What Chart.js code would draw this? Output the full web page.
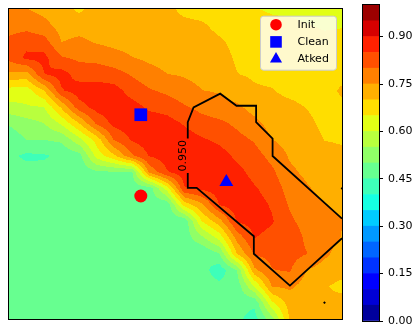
<!DOCTYPE html>
<html>
<head>
<meta charset="utf-8">
<script src="https://cdn.jsdelivr.net/npm/chart.js@4.4.1/dist/chart.umd.min.js"></script>
<style>
  html, body { margin: 0; padding: 0; background: #ffffff; }
  #wrap { position: relative; width: 415px; height: 328px; overflow: hidden; }
  #wrap canvas { position: absolute; left: 0; top: 0; }
</style>
</head>
<body>
<div id="wrap">
  <canvas id="field" width="415" height="328"></canvas>
  <canvas id="cbar" width="415" height="328"></canvas>
</div>
<script>
// Filled-contour levels and colorbar ticks
const levels = [0.00, 0.05, 0.10, 0.15, 0.20, 0.25, 0.30, 0.35, 0.40, 0.45, 0.50,
                0.55, 0.60, 0.65, 0.70, 0.75, 0.80, 0.85, 0.90, 0.95, 1.00];
const colorbarTicks = [0.00, 0.15, 0.30, 0.45, 0.60, 0.75, 0.90];

// Accuracy surface on a 20 x 20 grid (row 0 = top of the plot)
const surface = [
  [0.760, 0.752, 0.735, 0.720, 0.690, 0.720, 0.720, 0.715, 0.715, 0.710, 0.690, 0.685, 0.680, 0.675, 0.652, 0.645, 0.640, 0.635, 0.630, 0.625],
  [0.780, 0.780, 0.765, 0.730, 0.730, 0.730, 0.725, 0.720, 0.720, 0.715, 0.710, 0.705, 0.690, 0.680, 0.665, 0.660, 0.660, 0.652, 0.645, 0.648],
  [0.810, 0.835, 0.820, 0.749, 0.760, 0.745, 0.735, 0.730, 0.725, 0.720, 0.720, 0.715, 0.705, 0.690, 0.675, 0.670, 0.675, 0.665, 0.660, 0.660],
  [0.815, 0.860, 0.865, 0.805, 0.790, 0.785, 0.770, 0.752, 0.740, 0.730, 0.730, 0.725, 0.715, 0.695, 0.685, 0.680, 0.680, 0.670, 0.665, 0.665],
  [0.740, 0.730, 0.848, 0.870, 0.830, 0.830, 0.820, 0.795, 0.770, 0.751, 0.745, 0.735, 0.725, 0.701, 0.695, 0.690, 0.685, 0.675, 0.670, 0.680],
  [0.630, 0.625, 0.700, 0.845, 0.875, 0.875, 0.870, 0.830, 0.805, 0.790, 0.770, 0.751, 0.745, 0.720, 0.705, 0.702, 0.690, 0.685, 0.675, 0.710],
  [0.585, 0.595, 0.600, 0.710, 0.830, 0.870, 0.880, 0.870, 0.840, 0.830, 0.805, 0.785, 0.770, 0.760, 0.730, 0.715, 0.710, 0.698, 0.685, 0.685],
  [0.505, 0.530, 0.550, 0.610, 0.700, 0.810, 0.865, 0.880, 0.880, 0.870, 0.845, 0.820, 0.810, 0.790, 0.765, 0.730, 0.720, 0.710, 0.690, 0.690],
  [0.470, 0.501, 0.501, 0.510, 0.585, 0.670, 0.805, 0.855, 0.880, 0.885, 0.875, 0.855, 0.840, 0.815, 0.795, 0.751, 0.730, 0.720, 0.699, 0.695],
  [0.462, 0.440, 0.445, 0.460, 0.480, 0.620, 0.690, 0.790, 0.852, 0.875, 0.885, 0.880, 0.870, 0.840, 0.820, 0.785, 0.745, 0.730, 0.715, 0.710],
  [0.470, 0.470, 0.465, 0.470, 0.465, 0.490, 0.495, 0.490, 0.760, 0.845, 0.880, 0.885, 0.885, 0.865, 0.835, 0.810, 0.760, 0.740, 0.725, 0.720],
  [0.470, 0.475, 0.470, 0.470, 0.475, 0.470, 0.475, 0.470, 0.470, 0.620, 0.845, 0.860, 0.875, 0.880, 0.855, 0.830, 0.780, 0.755, 0.735, 0.730],
  [0.470, 0.470, 0.475, 0.470, 0.470, 0.475, 0.470, 0.470, 0.475, 0.460, 0.670, 0.740, 0.852, 0.875, 0.870, 0.845, 0.795, 0.770, 0.752, 0.740],
  [0.475, 0.470, 0.470, 0.475, 0.470, 0.470, 0.475, 0.470, 0.470, 0.465, 0.460, 0.650, 0.730, 0.855, 0.870, 0.855, 0.810, 0.780, 0.765, 0.752],
  [0.470, 0.475, 0.470, 0.470, 0.475, 0.470, 0.470, 0.475, 0.470, 0.470, 0.470, 0.540, 0.620, 0.770, 0.852, 0.835, 0.830, 0.790, 0.770, 0.748],
  [0.470, 0.470, 0.475, 0.470, 0.470, 0.475, 0.470, 0.470, 0.475, 0.470, 0.470, 0.449, 0.498, 0.700, 0.805, 0.815, 0.820, 0.801, 0.760, 0.730],
  [0.470, 0.475, 0.470, 0.470, 0.475, 0.470, 0.470, 0.475, 0.470, 0.470, 0.475, 0.470, 0.420, 0.500, 0.740, 0.798, 0.805, 0.749, 0.730, 0.720],
  [0.470, 0.470, 0.475, 0.470, 0.470, 0.475, 0.470, 0.470, 0.475, 0.470, 0.470, 0.475, 0.465, 0.470, 0.600, 0.752, 0.760, 0.730, 0.705, 0.685],
  [0.475, 0.470, 0.470, 0.475, 0.470, 0.470, 0.475, 0.470, 0.470, 0.475, 0.470, 0.470, 0.475, 0.470, 0.460, 0.640, 0.720, 0.720, 0.710, 0.720],
  [0.470, 0.475, 0.470, 0.470, 0.475, 0.470, 0.470, 0.475, 0.470, 0.470, 0.475, 0.470, 0.470, 0.460, 0.430, 0.530, 0.702, 0.720, 0.720, 0.715]
];

// Marked models (grid coordinates)
const markerNames = ['Init', 'Clean', 'Atked'];
const markerX = [7.52, 7.52, 12.40];
const markerY = [11.46, 6.48, 10.60];

// 0.950 iso-line of the second surface (null = gap for the inline label)
const isoLabel = '0.950';
const isoX = [19.00, 15.04, 15.04, 14.10, 14.10, 12.98, 12.05, 10.53, 10.20, 10.20, 10.20, 10.20, 10.20, 10.71, 13.97, 13.97, 16.03, 19.00];
const isoY = [12.85, 9.01, 7.94, 6.94, 5.93, 5.93, 5.19, 6.03, 6.94, 7.94, null, 10.05, 10.96, 10.96, 13.93, 15.00, 16.95, 14.05];
const isoLabelAt = [9.92, 9.00];
// tiny closed pieces of the same iso-line
const islandX = [19.00, 18.00];
const islandY = [11.00, 18.00];

const FONT = "'DejaVu Sans', 'Liberation Sans', sans-serif";

// jet colormap
const JET = {
  r: [[0, 0], [0.35, 0], [0.66, 1], [0.89, 1], [1, 0.5]],
  g: [[0, 0], [0.125, 0], [0.375, 1], [0.64, 1], [0.91, 0], [1, 0]],
  b: [[0, 0.5], [0.11, 1], [0.34, 1], [0.65, 0], [1, 0]]
};
function seg(s, t) {
  for (let k = 1; k < s.length; k++) {
    if (t <= s[k][0]) {
      const [x0, y0] = s[k - 1], [x1, y1] = s[k];
      return y0 + (y1 - y0) * (t - x0) / (x1 - x0);
    }
  }
  return s[s.length - 1][1];
}
function jet(t) {
  return [Math.round(255 * seg(JET.r, t)), Math.round(255 * seg(JET.g, t)), Math.round(255 * seg(JET.b, t))];
}
const lo = levels[0], hi = levels[levels.length - 1];
const bandRGB = [];
for (let k = 0; k < levels.length - 1; k++) {
  bandRGB.push(jet(((levels[k] + levels[k + 1]) / 2 - lo) / (hi - lo)));
}
const bandCss = bandRGB.map(c => `rgb(${c[0]},${c[1]},${c[2]})`);

function bandOf(v) {
  if (v < levels[0]) return 0;
  for (let k = 0; k < levels.length - 1; k++) {
    if (v < levels[k + 1]) return k;
  }
  return levels.length - 2;
}

// Filled contours: every pixel of the plot area is mapped back to grid
// coordinates through the chart scales and coloured by its level band.
const contourFill = {
  id: 'contourFill',
  beforeDatasetsDraw(chart) {
    const { ctx, chartArea: a, scales } = chart;
    const xs = scales.x, ys = scales.y;
    const w = Math.round(a.right - a.left), h = Math.round(a.bottom - a.top);
    const img = ctx.createImageData(w, h);
    const nR = surface.length, nC = surface[0].length;
    for (let py = 0; py < h; py++) {
      const gy = ys.getValueForPixel(a.top + py + 0.5);
      const j = Math.min(Math.max(Math.floor(gy), 0), nR - 2);
      const fy = gy - j;
      for (let px = 0; px < w; px++) {
        const gx = xs.getValueForPixel(a.left + px + 0.5);
        const i = Math.min(Math.max(Math.floor(gx), 0), nC - 2);
        const fx = gx - i;
        const v = surface[j][i] * (1 - fx) * (1 - fy) + surface[j][i + 1] * fx * (1 - fy) +
                  surface[j + 1][i] * (1 - fx) * fy + surface[j + 1][i + 1] * fx * fy;
        const c = bandRGB[bandOf(v)];
        const o = (py * w + px) * 4;
        img.data[o] = c[0]; img.data[o + 1] = c[1]; img.data[o + 2] = c[2]; img.data[o + 3] = 255;
      }
    }
    ctx.putImageData(img, Math.round(a.left), Math.round(a.top));
  },
  afterDatasetsDraw(chart) {
    const { ctx, scales } = chart;
    const px = scales.x.getPixelForValue(isoLabelAt[0]);
    const py = scales.y.getPixelForValue(isoLabelAt[1]);
    ctx.save();
    ctx.translate(px, py);
    ctx.rotate(-Math.PI / 2);
    ctx.fillStyle = '#000';
    ctx.font = `11px ${FONT}`;
    ctx.textAlign = 'center';
    ctx.textBaseline = 'middle';
    ctx.fillText(isoLabel, 0, 0);
    ctx.restore();
  }
};

// Axes frame and legend box
const frameAndLegend = {
  id: 'frameAndLegend',
  afterDraw(chart) {
    const { ctx, chartArea: a } = chart;
    ctx.save();
    ctx.strokeStyle = '#000';
    ctx.lineWidth = 1;
    ctx.strokeRect(a.left - 0.5, a.top - 0.5, a.right - a.left + 1, a.bottom - a.top + 1);

    // legend
    const bx = a.right - 82, by = a.top + 6.7, bw = 76, bh = 54;
    ctx.beginPath();
    if (ctx.roundRect) ctx.roundRect(bx + 0.5, by + 0.5, bw, bh, 3); else ctx.rect(bx + 0.5, by + 0.5, bw, bh);
    ctx.fillStyle = 'rgba(255,255,255,0.8)';
    ctx.fill();
    ctx.strokeStyle = '#cccccc';
    ctx.stroke();

    const items = chart.data.datasets.filter(d => markerNames.includes(d.label));
    items.forEach((d, n) => {
      const cy = by + 9 + n * 17.2;
      const cx = bx + 16;
      ctx.fillStyle = d.backgroundColor;
      ctx.strokeStyle = d.backgroundColor;
      Chart.helpers.drawPoint(ctx, {
        pointStyle: d.pointStyle,
        radius: d.legendRadius,
        rotation: 0,
        borderWidth: 0
      }, cx, cy);
      ctx.fillStyle = '#000';
      ctx.font = `11px ${FONT}`;
      ctx.textAlign = 'left';
      ctx.textBaseline = 'middle';
      ctx.fillText(d.label, bx + 37.5, cy + 0.5);
    });
    ctx.restore();
  }
};

const markerStyles = [
  { color: '#ff0000', style: 'circle', radius: 6.5, legendRadius: 5.8 },
  { color: '#0000ff', style: 'rect', radius: 9.0, legendRadius: 8.2 },
  { color: '#0000ff', style: 'triangle', radius: 8.0, legendRadius: 7.0 }
];

const markerSets = markerNames.map((name, k) => ({
  type: 'scatter',
  label: name,
  data: [{ x: markerX[k], y: markerY[k] }],
  backgroundColor: markerStyles[k].color,
  borderColor: markerStyles[k].color,
  borderWidth: 0,
  pointStyle: markerStyles[k].style,
  pointRadius: markerStyles[k].radius,
  legendRadius: markerStyles[k].legendRadius,
  clip: false
}));

const isoLine = {
  type: 'line',
  label: 'iso',
  data: isoX.map((x, k) => ({ x: x, y: isoY[k] })),
  borderColor: '#000000',
  borderWidth: 1.8,
  pointRadius: 0,
  fill: false,
  tension: 0,
  spanGaps: false
};

const isoIslands = {
  type: 'scatter',
  label: 'iso-islands',
  data: islandX.map((x, k) => ({ x: x, y: islandY[k] })),
  backgroundColor: '#000000',
  borderWidth: 0,
  pointRadius: 1.4,
  pointStyle: 'rectRot'
};

new Chart(document.getElementById('field'), {
  type: 'scatter',
  data: { datasets: [...markerSets, isoIslands, isoLine] },
  options: {
    responsive: false,
    animation: false,
    devicePixelRatio: 1,
    events: [],
    layout: { padding: { left: 5, top: 5, right: 73, bottom: 8 } },
    scales: {
      x: { type: 'linear', min: 0, max: 19, display: false },
      y: { type: 'linear', min: 0, max: 19, reverse: true, display: false }
    },
    plugins: { legend: { display: false }, tooltip: { enabled: false } }
  },
  plugins: [contourFill, frameAndLegend]
});

// Colorbar: one floating bar per level band on a 0..1 axis
const cbarOutline = {
  id: 'cbarOutline',
  afterDraw(chart) {
    const { ctx, chartArea: a } = chart;
    ctx.save();
    ctx.strokeStyle = '#000';
    ctx.lineWidth = 1;
    ctx.strokeRect(a.left - 0.5, a.top - 0.5, a.right - a.left + 1, a.bottom - a.top + 1);
    ctx.restore();
  }
};

new Chart(document.getElementById('cbar'), {
  type: 'bar',
  data: {
    labels: [''],
    datasets: bandCss.map((c, k) => ({
      data: [[levels[k], levels[k + 1]]],
      backgroundColor: c,
      borderWidth: 0,
      barPercentage: 1,
      categoryPercentage: 1,
      grouped: false
    }))
  },
  options: {
    responsive: false,
    animation: false,
    devicePixelRatio: 1,
    events: [],
    layout: { padding: { left: 363, top: 5, right: 0, bottom: 7 } },
    scales: {
      x: { display: false },
      y: {
        position: 'right',
        min: levels[0],
        max: levels[levels.length - 1],
        border: { display: true, color: '#000', width: 1 },
        grid: { drawOnChartArea: false, drawTicks: true, tickLength: 4, color: '#000', lineWidth: 1 },
        ticks: {
          color: '#000',
          padding: 5,
          font: { family: FONT, size: 11 },
          callback: v => Number(v).toFixed(2)
        },
        afterBuildTicks: s => { s.ticks = colorbarTicks.map(v => ({ value: v })); },
        afterFit: s => { s.width = 36; s.paddingTop = 0; s.paddingBottom = 0; }
      }
    },
    plugins: { legend: { display: false }, tooltip: { enabled: false } }
  },
  plugins: [cbarOutline]
});
</script>
</body>
</html>
